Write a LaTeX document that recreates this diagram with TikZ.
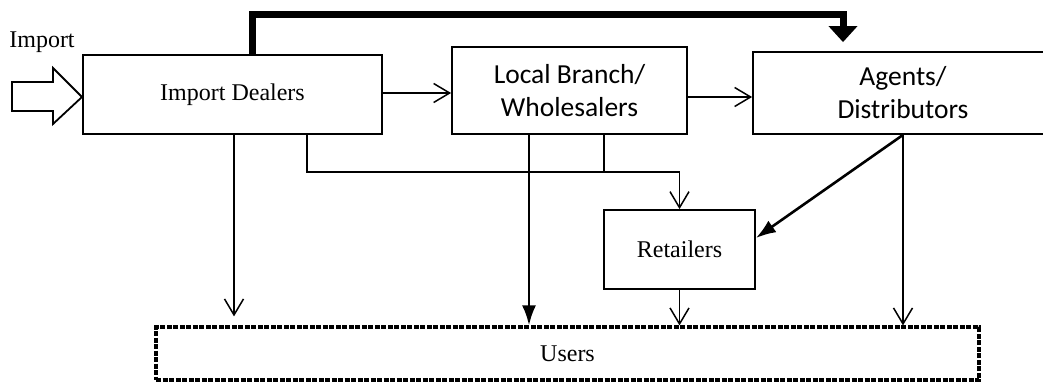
\documentclass[tikz,border=0pt]{standalone}
\usepackage{fontspec}
\usetikzlibrary{arrows.meta}
\newfontfamily\tmsfont{Liberation Serif}
\newfontfamily\calfont{Carlito}
\tikzset{
  box/.style={draw, line width=1.8pt, inner sep=0pt, rectangle},
  serifbox/.style={box, font=\tmsfont\fontsize{24}{28}\selectfont},
  calbox/.style={box, align=center, font=\calfont\fontsize{27.5}{33}\selectfont},
  userbox/.style={draw, line width=3.2pt, dash pattern=on 5pt off 1.5pt, inner sep=0pt, rectangle,
     font=\tmsfont\fontsize{24}{28}\selectfont},
  openarr/.style={line width=1.5pt, -{Straight Barb[length=16pt,width=19pt,line width=1.5pt]}},
  thinline/.style={line width=1.8pt},
  fillarr/.style={line width=2.6pt, -{Latex[length=20pt,width=14pt]}},
  heavyarr/.style={line width=7pt, -{Triangle[length=16pt,width=28pt]}}
}
\begin{document}
\begin{tikzpicture}[x=1pt,y=-1pt]
\useasboundingbox (0,0) rectangle (1043,382);
% nodes
\node[serifbox, minimum width=299pt, minimum height=79pt] (dealers) at (232.5,94.5) {Import Dealers};
\node[calbox, minimum width=235pt, minimum height=87pt] (local) at (569.5,90.5) {Local Branch/\\Wholesalers};
\node[calbox, minimum width=300pt, minimum height=82pt] (agents) at (903,93) {Agents/\\Distributors};
\node[serifbox, minimum width=151pt, minimum height=79pt] (retail) at (679.5,249.5) {Retailers};
\node[userbox, minimum width=823pt, minimum height=53pt] (users) at (567.5,353.5) {Users};
\node[font=\tmsfont\fontsize{24}{28}\selectfont, inner sep=0pt] (importlbl) at (42,42) {Import};
% hollow import arrow
\draw[line width=1.8pt, line join=miter] (12,82) -- (53,82) -- (53,68) -- (82,97) -- (53,124) -- (53,111) -- (12,111) -- cycle;
% coordinates
\coordinate (t1) at (252,15);
\coordinate (t2) at (843,15);
\coordinate (j1) at (307,172);
\coordinate (j2) at (679.5,172);
\coordinate (j3) at (604,172);
\coordinate (dx) at (234,0);
\coordinate (lx) at (529,0);
\coordinate (ax) at (903,0);
% connectors
\draw[heavyarr, line join=miter] (dealers.north -| t1) -- (t1) -- (t2) -- ([yshift=9pt]t2 |- agents.north);
\draw[openarr] ([yshift=1.5pt]dealers.east) -- ([yshift=1.5pt]dealers.east -| local.west);
\draw[openarr] ([yshift=-6.5pt]local.east) -- ([yshift=-6.5pt]local.east -| agents.west);
\draw[openarr] (dealers.south -| dx) -- ([yshift=9pt]dx |- users.north);
\draw[thinline] (dealers.south -| j1) -- (j1) -- (j2);
\draw[openarr] (j2) -- (retail.north);
\draw[thinline] (local.south -| j3) -- (j3);
\draw[fillarr] (local.south -| lx) -- (lx |- users.north);
\draw[fillarr] (agents.south -| ax) -- ([yshift=11.5pt]retail.east);
\draw[openarr] (agents.south -| ax) -- (ax |- users.north);
\draw[openarr] (retail.south) -- (retail.south |- users.north);
\end{tikzpicture}
\end{document}
